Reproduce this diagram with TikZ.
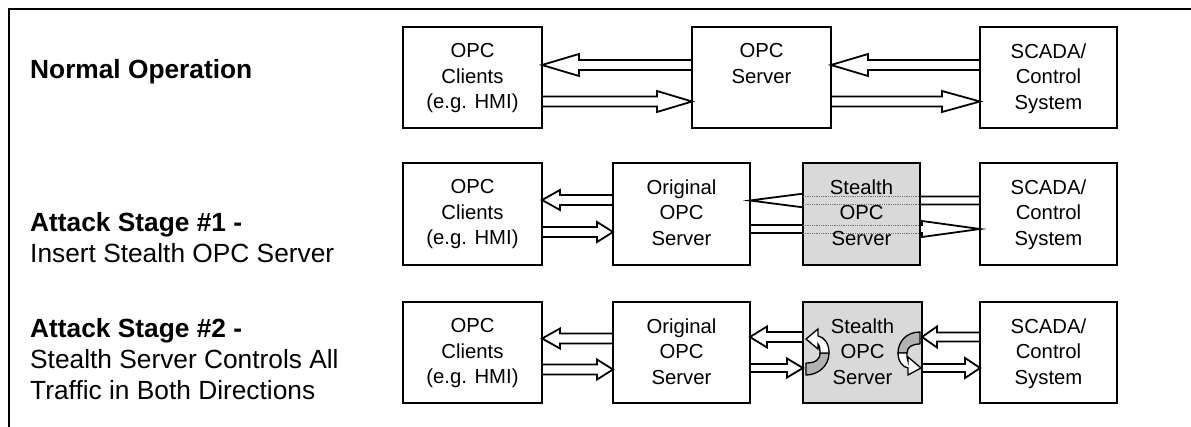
\documentclass[tikz,border=0pt]{standalone}
\usepackage{fontspec}
\setmainfont{Liberation Sans}
\usetikzlibrary{calc}
\tikzset{
  box/.style={draw, line width=1.8pt, inner sep=0pt, outer sep=0pt},
  stealth/.style={box, fill=black!15},
  boxtext/.style={font=\fontsize{20.3}{25.5}\selectfont, align=center, anchor=north, inner sep=0pt},
  stagetext/.style={font=\fontsize{26.3}{31}\selectfont, align=left, anchor=north west, inner sep=0pt},
  arr/.style={draw, fill=white, line width=1.8pt, line join=miter},
  ghost/.style={draw=black!55, line width=0.8pt, densely dotted},
  curvgray/.style={draw, line width=1.3pt, fill=black!30, line join=round},
  curvwhite/.style={draw, line width=1.3pt, fill=white, line join=miter},
  frame/.style={line width=2pt}
}
\newcommand\barrow[5]{%
  \draw[arr] let \p1=(#1), \p2=(#2) in
    (\x1,{\y1+#3}) -- ({\x2-(#5)},{\y1+#3}) -- ({\x2-(#5)},{\y1+#4}) -- (\x2,\y1)
    -- ({\x2-(#5)},{\y1-#4}) -- ({\x2-(#5)},{\y1-#3}) -- (\x1,{\y1-#3}) -- cycle;}
\begin{document}
\begin{tikzpicture}[x=1pt,y=-1pt]
\useasboundingbox (0,0) rectangle (1191,427);
\draw[frame] (8.5,427) -- (8.5,9.5) -- (1191,9.5);

% stage labels
\node[stagetext] (lab1) at (30,59) {\textbf{Normal Operation}};
\node[stagetext] (lab2) at (30,212.5) {\textbf{Attack Stage \#1 -}\\Insert Stealth OPC Server};
\node[stagetext] (lab3) at (30,318.5) {\textbf{Attack Stage \#2 -}\\Stealth Server Controls All\\Traffic in Both Directions};

% row 1
\node[box, minimum width=139pt, minimum height=101pt] (cli1) at (472.5,77.5) {};
\node[box, minimum width=139pt, minimum height=101pt] (srv1) at (761.5,77.5) {};
\node[box, minimum width=137pt, minimum height=101pt] (sca1) at (1048.5,77.5) {};
\node[boxtext] (t-cli1) at ($(cli1.north)+(0,16.5)$) {OPC\\Clients\\(e.g. HMI)};
\node[boxtext] (t-srv1) at ($(srv1.north)+(0,16.5)$) {OPC\\Server};
\node[boxtext] (t-sca1) at ($(sca1.north)+(0,16.5)$) {SCADA/\\Control\\System};
\barrow{$(srv1.west)+(0,-12.5)$}{$(cli1.east)+(0,-12.5)$}{5pt}{11pt}{-37pt}
\barrow{$(cli1.east)+(0,24)$}{$(srv1.west)+(0,24)$}{5pt}{10.5pt}{35pt}
\barrow{$(sca1.west)+(0,-12.5)$}{$(srv1.east)+(0,-12.5)$}{5pt}{11pt}{-37pt}
\barrow{$(srv1.east)+(0,24)$}{$(sca1.west)+(0,24)$}{5pt}{10.5pt}{38pt}

% row 2
\node[box, minimum width=139pt, minimum height=102pt] (cli2) at (472.5,214) {};
\node[box, minimum width=137pt, minimum height=102pt] (org2) at (681.5,214) {};
\node[box, minimum width=137pt, minimum height=102pt] (sca2) at (1048.5,214) {};
\barrow{$(org2.west)+(0,-14)$}{$(cli2.east)+(0,-14)$}{5pt}{10pt}{-18pt}
\barrow{$(cli2.east)+(0,18)$}{$(org2.west)+(0,18)$}{5pt}{10pt}{16pt}
\barrow{$(sca2.west)+(0,-13.5)$}{$(org2.east)+(0,-13.5)$}{4pt}{7.5pt}{-58pt}
\barrow{$(org2.east)+(0,15)$}{$(sca2.west)+(0,15)$}{4pt}{8pt}{58pt}
\node[stealth, minimum width=117pt, minimum height=102pt] (stl2) at (861.5,214) {};
\draw[ghost] ($(stl2.west)+(0,-17.5)$) -- ($(stl2.east)+(0,-17.5)$);
\draw[ghost] ($(stl2.west)+(0,-9.5)$) -- ($(stl2.east)+(0,-9.5)$);
\draw[ghost] ($(stl2.west)+(0,11)$) -- ($(stl2.east)+(0,11)$);
\draw[ghost] ($(stl2.west)+(0,19)$) -- ($(stl2.east)+(0,19)$);
\node[boxtext] (t-cli2) at ($(cli2.north)+(0,16.5)$) {OPC\\Clients\\(e.g. HMI)};
\node[boxtext] (t-org2) at ($(org2.north)+(0,16.5)$) {Original\\OPC\\Server};
\node[boxtext] (t-stl2) at ($(stl2.north)+(0,16.5)$) {Stealth\\OPC\\Server};
\node[boxtext] (t-sca2) at ($(sca2.north)+(0,16.5)$) {SCADA/\\Control\\System};

% row 3
\node[box, minimum width=139pt, minimum height=101pt] (cli3) at (472.5,352.5) {};
\node[box, minimum width=137pt, minimum height=101pt] (org3) at (681.5,352.5) {};
\node[stealth, minimum width=119pt, minimum height=101pt] (stl3) at (862.5,352.5) {};
\node[box, minimum width=137pt, minimum height=101pt] (sca3) at (1048.5,352.5) {};
\node[boxtext] (t-cli3) at ($(cli3.north)+(0,16.5)$) {OPC\\Clients\\(e.g. HMI)};
\node[boxtext] (t-org3) at ($(org3.north)+(0,16.5)$) {Original\\OPC\\Server};
\node[boxtext] (t-stl3) at ($(stl3.north)+(0,16.5)$) {Stealth\\OPC\\Server};
\node[boxtext] (t-sca3) at ($(sca3.north)+(0,16.5)$) {SCADA/\\Control\\System};
\barrow{$(org3.west)+(0,-14)$}{$(cli3.east)+(0,-14)$}{5pt}{10pt}{-18pt}
\barrow{$(cli3.east)+(0,17)$}{$(org3.west)+(0,17)$}{5pt}{10pt}{16pt}
\barrow{$(stl3.west)+(0,-15.5)$}{$(org3.east)+(0,-15.5)$}{5pt}{10.5pt}{-17pt}
\barrow{$(org3.east)+(0,15.5)$}{$(stl3.west)+(0,15.5)$}{4pt}{9.5pt}{16pt}
\barrow{$(sca3.west)+(0,-15.5)$}{$(stl3.east)+(0,-15.5)$}{4.5pt}{10.5pt}{-15pt}
\barrow{$(stl3.east)+(0,15.5)$}{$(sca3.west)+(0,15.5)$}{4pt}{10pt}{15pt}

% curved arrows inside the stealth server (stage 2)
\path[curvgray] (806,375) .. controls (818,375) and (829,366) .. (829,353)
  -- (820,353) .. controls (820,360) and (815,363) .. (806,363) -- cycle;
\path[curvwhite] (829,353) .. controls (829,343) and (824,337) .. (818,336)
  -- (818,329) -- (806,339) -- (818,349) -- (818,344)
  .. controls (820,346) and (820,350) .. (820,353) -- cycle;
\path[curvgray] (920,332) .. controls (906,332) and (898,342) .. (898,353)
  -- (907,353) .. controls (907,347) and (912,344) .. (920,344) -- cycle;
\path[curvwhite] (898,353) .. controls (898,362) and (903,367) .. (908,368)
  -- (908,375) -- (921,368) -- (908,357) -- (908,361)
  .. controls (907,359) and (907,356) .. (907,353) -- cycle;
\end{tikzpicture}
\end{document}
